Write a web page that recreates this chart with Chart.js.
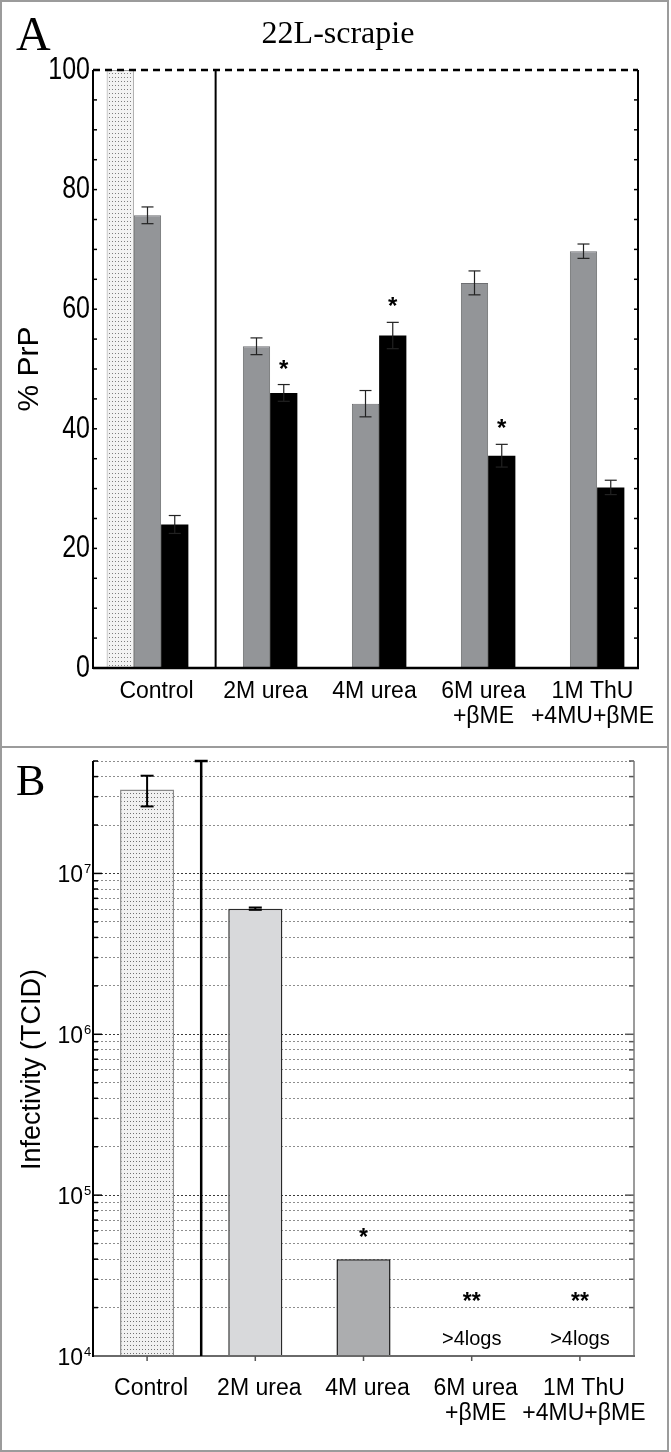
<!DOCTYPE html>
<html>
<head>
<meta charset="utf-8">
<title>22L-scrapie</title>
<script src="https://cdn.jsdelivr.net/npm/chart.js@4.4.1/dist/chart.umd.min.js"></script>
<style>
  html, body { margin: 0; padding: 0; background: #fff; }
  #page { position: relative; width: 671px; height: 1452px; }
  #boxA { position: absolute; left: 0; top: 0; width: 671px; height: 747px; }
  #boxB { position: absolute; left: 0; top: 748px; width: 671px; height: 704px; }
  #frame { position: absolute; left: 0; top: 0; width: 669px; height: 1452px;
           border: 2px solid #9b9b9b; box-sizing: border-box; pointer-events: none; }
  #sep { position: absolute; left: 0; top: 746px; width: 669px; height: 2px; background: #9b9b9b; }
</style>
</head>
<body>
<div id="page">
  <div id="boxA"><canvas id="chartA"></canvas></div>
  <div id="boxB"><canvas id="chartB"></canvas></div>
  <div id="sep"></div>
  <div id="frame"></div>
</div>
<script>
// ---- data ----
var CATEGORIES = ['Control', '2M urea', '4M urea', ['6M urea', '+\u03B2ME'], ['1M ThU', '+4MU+\u03B2ME']];

// panel A: % PrP
var A_TOTAL = [100, null, null, null, null];
var A_GRAY = [75.7, 53.8, 44.2, 64.4, 69.7];
var A_GRAY_ERR = [1.4, 1.4, 2.2, 2.0, 1.2];
var A_BLACK = [24.0, 46.0, 55.6, 35.5, 30.2];
var A_BLACK_ERR = [1.5, 1.4, 2.2, 1.9, 1.2];
var A_BLACK_SIG = ['', '*', '*', '*', ''];
var A_TICKS = [0, 20, 40, 60, 80, 100];
var A_MINOR_STEP = 5;

// panel B: infectivity (TCID)
var B_INFECTIVITY = [3.33e7, 6.04e6, 4.0e4, null, null];
var B_ERR = [7.2e6, 1.0e5, 0, 0, 0];
var B_SIG = ['', '', '*', '**', '**'];
var B_NOTE = ['', '', '', '>4logs', '>4logs'];
var B_DECADES = [1e4, 1e5, 1e6, 1e7];
var B_MIN = 1e4;
var B_MAX = 5e7;

var SANS = "'Liberation Sans', Arial, sans-serif";
var SERIF = "'Liberation Serif', 'Times New Roman', serif";

function dotPattern(bg, dot) {
  var c = document.createElement('canvas');
  c.width = 3; c.height = 4;
  var x = c.getContext('2d');
  x.fillStyle = bg; x.fillRect(0, 0, 3, 4);
  x.fillStyle = dot; x.fillRect(1, 1, 1, 1);
  return x.createPattern(c, 'repeat');
}

function line(ctx, x1, y1, x2, y2) {
  ctx.beginPath(); ctx.moveTo(x1, y1); ctx.lineTo(x2, y2); ctx.stroke();
}

function text(ctx, s, x, y, font, align, baseline) {
  ctx.font = font;
  ctx.textAlign = align || 'center';
  ctx.textBaseline = baseline || 'alphabetic';
  ctx.fillText(s, x, y);
}

function rotText(ctx, s, x, y, font) {
  ctx.save();
  ctx.translate(x, y);
  ctx.rotate(-Math.PI / 2);
  text(ctx, s, 0, 0, font, 'center', 'middle');
  ctx.restore();
}

// symmetric error bars on one dataset
function drawErrors(chart, dsIndex, errs, half, width, color) {
  var ctx = chart.ctx, ys = chart.scales.y;
  var ds = chart.data.datasets[dsIndex], meta = chart.getDatasetMeta(dsIndex);
  ctx.save();
  ctx.strokeStyle = color;
  ctx.lineWidth = width;
  meta.data.forEach(function (bar, i) {
    var v = ds.data[i], e = errs[i];
    if (v === null || !e) { return; }
    var x = bar.x;
    var yt = ys.getPixelForValue(v + e), yb = ys.getPixelForValue(v - e);
    line(ctx, x, yt, x, yb);
    line(ctx, x - half, yt, x + half, yt);
    line(ctx, x - half, yb, x + half, yb);
  });
  ctx.restore();
}

// ---- panel A ----
var panelA = {
  id: 'panelA',
  afterDatasetsDraw: function (chart) {
    drawErrors(chart, 1, A_GRAY_ERR, 6, 1.2, '#222');
    drawErrors(chart, 2, A_BLACK_ERR, 6, 1.2, '#222');
  },
  afterDraw: function (chart) {
    var ctx = chart.ctx, a = chart.chartArea, ys = chart.scales.y;
    ctx.save();
    ctx.strokeStyle = '#000';
    ctx.fillStyle = '#000';

    // inward minor ticks on both side axes
    ctx.lineWidth = 1.5;
    for (var v = ys.min; v <= ys.max; v += A_MINOR_STEP) {
      var py = ys.getPixelForValue(v);
      line(ctx, a.left, py, a.left + 4, py);
      line(ctx, a.right - 4, py, a.right, py);
    }

    // narrow, tall tick labels like the original figure
    ys.ticks.forEach(function (t) {
      ctx.save();
      ctx.translate(a.left - 3, ys.getPixelForValue(t.value));
      ctx.scale(0.78, 1);
      text(ctx, String(t.value), 0, 0, '32px ' + SANS, 'right', 'middle');
      ctx.restore();
    });

    // axes
    ctx.lineWidth = 2;
    line(ctx, a.left, a.top, a.left, a.bottom + 1);
    line(ctx, a.right, a.top, a.right, a.bottom + 1);
    ctx.lineWidth = 2.5;
    line(ctx, a.left, a.bottom, a.right + 1, a.bottom);
    ctx.save();
    ctx.setLineDash([7, 5]);
    line(ctx, a.left, a.top, a.right, a.top);
    ctx.restore();

    // divider between control and treatments
    var b0 = chart.getDatasetMeta(2).data[0];
    var g1 = chart.getDatasetMeta(1).data[1];
    var dx = ((b0.x + b0.width / 2) + (g1.x - g1.width / 2)) / 2;
    ctx.lineWidth = 2;
    line(ctx, dx, a.top, dx, a.bottom);

    // significance marks above black bars
    var blk = chart.getDatasetMeta(2).data;
    blk.forEach(function (bar, i) {
      if (!A_BLACK_SIG[i]) { return; }
      var yt = ys.getPixelForValue(A_BLACK[i] + A_BLACK_ERR[i]);
      text(ctx, A_BLACK_SIG[i], bar.x, yt - 8, 'bold 24px ' + SANS, 'center', 'alphabetic');
    });

    rotText(ctx, '% PrP', 30, (a.top + a.bottom) / 2, '30px ' + SANS);
    text(ctx, '22L-scrapie', 338, 43, '32px ' + SERIF, 'center', 'alphabetic');
    text(ctx, 'A', 16, 50, '48px ' + SERIF, 'left', 'alphabetic');
    ctx.restore();
  }
};

new Chart(document.getElementById('chartA'), {
  type: 'bar',
  data: {
    labels: CATEGORIES,
    datasets: [
      { label: 'Total', data: A_TOTAL, backgroundColor: dotPattern('#f3f3f3', '#7d7d7d'),
        borderColor: '#9a9a9a', borderWidth: 1 },
      { label: 'Gray fraction', data: A_GRAY, backgroundColor: '#939598',
        borderColor: '#6d6e71', borderWidth: 1 },
      { label: 'Black fraction', data: A_BLACK, backgroundColor: '#000', borderWidth: 0 }
    ]
  },
  options: {
    responsive: true,
    maintainAspectRatio: false,
    animation: false,
    layout: { padding: { left: 0, right: 33, top: 70, bottom: 0 } },
    datasets: { bar: { categoryPercentage: 0.75, barPercentage: 1.0 } },
    plugins: { legend: { display: false }, tooltip: { enabled: false } },
    scales: {
      x: {
        grid: { display: false, drawTicks: false },
        border: { display: false },
        ticks: { color: '#000', font: { family: SANS, size: 23, lineHeight: 1.1 },
                 padding: 11, labelOffset: 9, maxRotation: 0, autoSkip: false },
        afterFit: function (s) { s.height = 79; }
      },
      y: {
        min: 0, max: 100,
        afterBuildTicks: function (s) { s.ticks = A_TICKS.map(function (v) { return { value: v }; }); },
        grid: { display: false, drawTicks: false },
        border: { display: false },
        ticks: { display: false },
        afterFit: function (s) { s.width = 93; }
      }
    }
  },
  plugins: [panelA]
});

// ---- panel B ----
var panelB = {
  id: 'panelB',
  afterDatasetsDraw: function (chart) {
    drawErrors(chart, 0, B_ERR, 6.5, 2, '#000');
  },
  afterDraw: function (chart) {
    var ctx = chart.ctx, a = chart.chartArea, ys = chart.scales.y;
    var meta = chart.getDatasetMeta(0).data;
    ctx.save();
    ctx.fillStyle = '#000';

    // inward ticks on both side axes
    ys.ticks.forEach(function (t) {
      var py = ys.getPixelForValue(t.value);
      var major = B_DECADES.indexOf(t.value) >= 0;
      var len = major ? 9 : 5;
      ctx.lineWidth = 1.5;
      ctx.strokeStyle = '#000';
      line(ctx, a.left, py, a.left + len, py);
      ctx.strokeStyle = '#555';
      line(ctx, a.right - len, py, a.right, py);
    });

    // axes
    ctx.strokeStyle = '#7a7a7a';
    ctx.lineWidth = 1.5;
    line(ctx, a.right, a.top, a.right, a.bottom);
    ctx.strokeStyle = '#6a6a6a';
    ctx.lineWidth = 2;
    line(ctx, a.left, a.bottom, a.right + 1, a.bottom);
    ctx.strokeStyle = '#000';
    line(ctx, a.left, a.top, a.left, a.bottom + 1);

    // category tick marks below the axis
    ctx.strokeStyle = '#555';
    ctx.lineWidth = 1.5;
    meta.forEach(function (bar) { line(ctx, bar.x, a.bottom, bar.x, a.bottom + 5); });

    // divider with a cap
    var dx = ((meta[0].x + meta[0].width / 2) + (meta[1].x - meta[1].width / 2)) / 2;
    ctx.strokeStyle = '#000';
    ctx.lineWidth = 2.5;
    line(ctx, dx, a.top, dx, a.bottom);
    line(ctx, dx - 6.5, a.top, dx + 6.5, a.top);

    // decade labels 10^n
    B_DECADES.forEach(function (d) {
      var py = ys.getPixelForValue(d);
      text(ctx, '10', a.left - 10, py + 8.5, '23px ' + SANS, 'right', 'alphabetic');
      text(ctx, String(Math.round(Math.log10(d))), a.left - 9, py, '13px ' + SANS, 'left', 'alphabetic');
    });

    // significance marks and notes
    meta.forEach(function (bar, i) {
      var v = B_INFECTIVITY[i];
      if (B_SIG[i]) {
        var sy = (v === null) ? a.bottom - 47 : ys.getPixelForValue(v + B_ERR[i]) - 14;
        text(ctx, B_SIG[i], bar.x, sy, 'bold 23px ' + SANS, 'center', 'alphabetic');
      }
      if (B_NOTE[i]) {
        text(ctx, B_NOTE[i], bar.x, a.bottom - 11, '20px ' + SANS, 'center', 'alphabetic');
      }
    });

    rotText(ctx, 'Infectivity (TCID)', 33, (a.top + a.bottom) / 2 + 11, '27px ' + SANS);
    text(ctx, 'B', 16, 47, '44px ' + SERIF, 'left', 'alphabetic');
    ctx.restore();
  }
};

new Chart(document.getElementById('chartB'), {
  type: 'bar',
  data: {
    labels: CATEGORIES,
    datasets: [{
      label: 'Infectivity (TCID)',
      data: B_INFECTIVITY,
      backgroundColor: [dotPattern('#f1f1f1', '#6f6f6f'), '#d8d9db', '#acadaf', '#fff', '#fff'],
      borderColor: ['#8a8a8a', '#2a2a2a', '#1a1a1a', '#000', '#000'],
      borderWidth: 1.5,
      categoryPercentage: 0.5,
      barPercentage: 1.0
    }]
  },
  options: {
    responsive: true,
    maintainAspectRatio: false,
    animation: false,
    layout: { padding: { left: 0, right: 37, top: 13, bottom: 0 } },
    plugins: { legend: { display: false }, tooltip: { enabled: false } },
    scales: {
      x: {
        grid: { display: false, drawTicks: false },
        border: { display: false },
        ticks: { color: '#000', font: { family: SANS, size: 23, lineHeight: 1.1 },
                 padding: 20, labelOffset: 4, maxRotation: 0, autoSkip: false },
        afterFit: function (s) { s.height = 96; }
      },
      y: {
        type: 'logarithmic',
        min: B_MIN, max: B_MAX,
        afterBuildTicks: function (s) {
          var t = [];
          B_DECADES.forEach(function (d) {
            for (var m = 1; m < 10; m++) { if (d * m <= B_MAX) { t.push({ value: d * m }); } }
          });
          s.ticks = t;
        },
        grid: {
          drawTicks: false,
          color: function (c) { return B_DECADES.indexOf(c.tick && c.tick.value) >= 0 ? '#3a3a3a' : '#8e8e8e'; },
          lineWidth: 1
        },
        border: { display: false, dash: [2, 2] },
        ticks: { display: false },
        afterFit: function (s) { s.width = 93; }
      }
    }
  },
  plugins: [panelB]
});
</script>
</body>
</html>
